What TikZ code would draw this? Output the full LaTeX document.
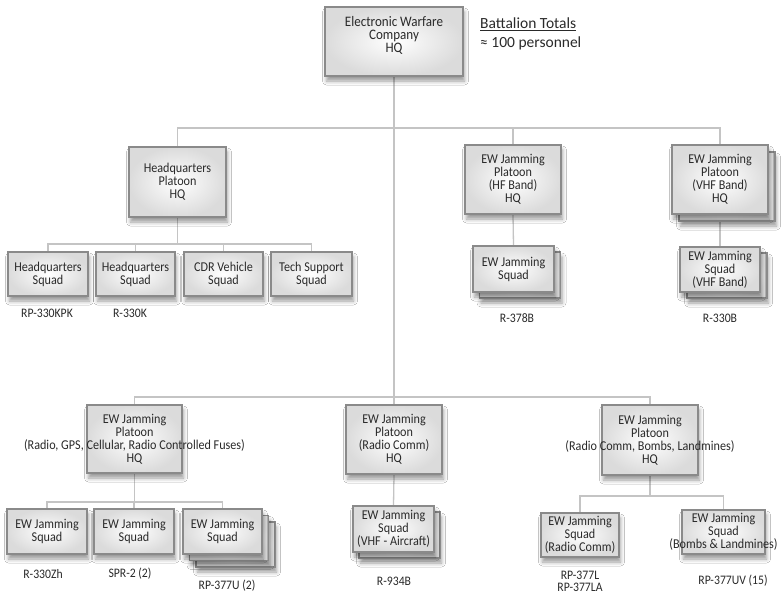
\documentclass[tikz,border=0pt]{standalone}
\usepackage{fontspec}
\setmainfont{Carlito}
\newfontfamily\narrow[FakeStretch=0.9]{Carlito}
\usetikzlibrary{shadows.blur,backgrounds}
\definecolor{edge}{HTML}{8A8A8A}
\definecolor{wirec}{HTML}{C4C4C4}
\definecolor{ink}{HTML}{2A2A2A}
\begin{document}
\begin{tikzpicture}[x=1pt,y=-1pt,
  box/.style={draw=edge, line width=1.2pt, inner color=white, outer color=black!14,
    inner sep=0pt, align=center, font=\narrow\fontsize{13.5}{13}\selectfont, text=ink,
    blur shadow={shadow xshift=1.5pt, shadow yshift=-5pt, shadow opacity=40, shadow blur radius=4pt}},
  wh/.style 2 args={minimum width=#1pt, minimum height=#2pt},
  wire/.style={draw=wirec, line width=1.3pt},
  tag/.style={font=\narrow\fontsize{13}{12.5}\selectfont, text=ink, inner sep=0pt, align=center}]
\useasboundingbox (0,0) rectangle (781,595);

% top
\node[box, wh={138}{69}, label={[font=\narrow\fontsize{14.5}{13}\selectfont, align=center, text=ink, yshift=6pt]center:{Electronic Warfare\\Company\\HQ}}] (ew) at (394,41.5) {};
\node[anchor=north west, align=left, font=\fontsize{15.5}{19}\selectfont, text=ink, inner sep=0pt] (bt) at (480,18) {\underline{Battalion Totals}\\≈ 100 personnel};

% second row
\node[box, wh={97}{70}] (hq) at (177.5,182) {Headquarters\\Platoon\\HQ};
\node[box, wh={96}{69}] (hf) at (513,179.5) {EW Jamming\\Platoon\\(HF Band)\\HQ};
\node[box, wh={96}{69}] (vhfb) at (727,186.5) {};
\node[box, wh={96}{69}] (vhf) at (720,179.5) {EW Jamming\\Platoon\\(VHF Band)\\HQ};

\node[box, wh={80}{44}] (s1) at (48,274) {Headquarters\\Squad};
\node[box, wh={79}{44}] (s2) at (135.5,274) {Headquarters\\Squad};
\node[box, wh={79}{44}] (s3) at (223.5,274) {CDR Vehicle\\Squad};
\node[box, wh={81}{44}] (s4) at (311.5,274) {Tech Support\\Squad};

\node[box, wh={81}{46}] (hfsb) at (520,275) {};
\node[box, wh={81}{46}] (hfs) at (513.5,269) {EW Jamming\\Squad};
\node[box, wh={80}{45}] (vhfsb) at (727,275.5) {};
\node[box, wh={80}{45}] (vhfs) at (720,269.5) {EW Jamming\\Squad\\(VHF Band)};

% third row
\node[box, wh={95}{68}] (p1) at (134.5,439) {EW Jamming\\Platoon\\\makebox[0pt]{(Radio, GPS, Cellular, Radio Controlled Fuses)}\\HQ};
\node[box, wh={96}{69}] (p2) at (394,439.5) {EW Jamming\\Platoon\\(Radio Comm)\\HQ};
\node[box, wh={96}{70}] (p3) at (650,440) {EW Jamming\\Platoon\\\makebox[0pt]{(Radio Comm, Bombs, Landmines)}\\HQ};

\node[box, wh={80}{45}] (q1) at (47,531.5) {EW Jamming\\Squad};
\node[box, wh={80}{45}] (q2) at (134,531.5) {EW Jamming\\Squad};
\node[box, wh={79}{45}] (q3bb) at (235.5,544.5) {};
\node[box, wh={79}{45}] (q3b) at (229,538) {};
\node[box, wh={79}{45}] (q3) at (222.5,531.5) {EW Jamming\\Squad};

\node[box, wh={81}{46}] (r1b) at (399.5,535) {};
\node[box, wh={81}{46}] (r1) at (393.5,529) {EW Jamming\\Squad\\(VHF - Aircraft)};

\node[box, wh={78}{44}] (t1) at (580,535) {EW Jamming\\Squad\\(Radio Comm)};
\node[box, wh={83}{44}] (t2) at (723.5,532) {EW Jamming\\Squad\\\makebox[0pt]{(Bombs \& Landmines)}};

% equipment tags
\node[tag] (l1) at (47,313) {RP-330KPK};
\node[tag] (l2) at (130,313) {R-330K};
\node[tag] (l3) at (517,318) {R-378B};
\node[tag] (l4) at (720,318) {R-330B};
\node[tag] (l5) at (43,574) {R-330Zh};
\node[tag] (l6) at (130,574) {SPR-2 (2)};
\node[tag] (l7) at (227,586) {RP-377U (2)};
\node[tag] (l8) at (394,581) {R-934B};
\node[tag] (l9) at (580,581.5) {RP-377L\\RP-377LA};
\node[tag] (l10) at (733,581) {RP-377UV (15)};

% connectors
\coordinate (bus0) at (0,128);
\coordinate (bus1) at (0,397);
\coordinate (bus2) at (0,244);
\coordinate (bus3) at (0,502);
\coordinate (bus4) at (0,496);
\begin{pgfonlayer}{background}
\fill[white] (0,0) rectangle (781,595);
\draw[wire] (ew.south) -- (ew.south |- bus1);
\draw[wire] (hq.north) -- (hq.north |- bus0) -- (vhf.north |- bus0) -- (vhf.north);
\draw[wire] (hf.north) -- (hf.north |- bus0);
\draw[wire] (hf.south) -- (hfs.north);
\draw[wire] (vhf.south) -- (vhfs.north);
\draw[wire] (hq.south) -- (hq.south |- bus2);
\draw[wire] (s1.north) -- (s1.north |- bus2) -- (s4.north |- bus2) -- (s4.north);
\draw[wire] (s2.north) -- (s2.north |- bus2);
\draw[wire] (s3.north) -- (s3.north |- bus2);
\draw[wire] (p1.north) -- (p1.north |- bus1) -- (p3.north |- bus1) -- (p3.north);
\draw[wire] (p2.north) -- (p2.north |- bus1);
\draw[wire] (p1.south) -- (p1.south |- bus3);
\draw[wire] (q1.north) -- (q1.north |- bus3) -- (q3.north |- bus3) -- (q3.north);
\draw[wire] (q2.north) -- (q2.north |- bus3);
\draw[wire] (p2.south) -- (r1.north);
\draw[wire] (p3.south) -- (p3.south |- bus4);
\draw[wire] (t1.north) -- (t1.north |- bus4) -- (t2.north |- bus4) -- (t2.north);
\end{pgfonlayer}
\end{tikzpicture}
\end{document}
